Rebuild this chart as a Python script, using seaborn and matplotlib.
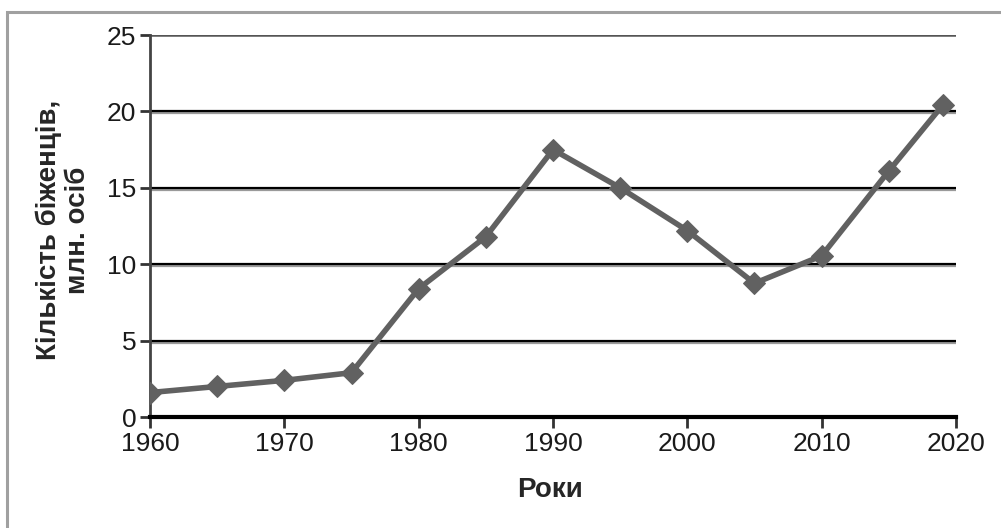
import matplotlib
matplotlib.use("Agg")
import matplotlib.pyplot as plt
import matplotlib.patheffects as pe
from matplotlib.patches import Rectangle
import seaborn as sns
import pandas as pd

years = [1960, 1965, 1970, 1975, 1980, 1985, 1990, 1995, 2000, 2005, 2010, 2015, 2019]
refugees = [1.6, 2.0, 2.4, 2.9, 8.4, 11.8, 17.5, 15.0, 12.2, 8.75, 10.55, 16.1, 20.4]
x_ticks = [1960, 1970, 1980, 1990, 2000, 2010, 2020]
y_ticks = [0, 5, 10, 15, 20, 25]
x_label = "Роки"
y_label = "Кількість біженців,\nмлн. осіб"

df = pd.DataFrame({"year": years, "value": refugees})

sns.set_theme(style="white")
plt.rcParams['font.family'] = ['Liberation Sans', 'DejaVu Sans']

fig = plt.figure(figsize=(10.01, 5.28), dpi=100)
ax = fig.add_axes([0.1499, 0.2102, 0.955 - 0.1499, 0.9337 - 0.2102])

# outer frame
fig.patches.append(Rectangle((7 / 1001, -0.05), 1.1, 1 - 12 / 528 + 0.05,
                             transform=fig.transFigure, fill=False,
                             edgecolor="#a0a0a0", linewidth=2.2, zorder=0))

# grid lines with light shadow
for yv in y_ticks[1:-1]:
    ax.axhline(yv, color="black", lw=1.6, zorder=1,
               path_effects=[pe.SimpleLineShadow(offset=(0, -1.5), shadow_color="#9a9a9a", alpha=1.0),
                             pe.Normal()])
ax.axhline(25, color="#555555", lw=1.8, zorder=1)

sns.lineplot(data=df, x="year", y="value", ax=ax, color="#616161",
             linewidth=4.0, marker="D", markersize=11,
             markeredgecolor="#616161", markerfacecolor="#616161", zorder=3)

ax.set_xlim(1960, 2020)
ax.set_ylim(0, 25)
ax.set_xticks(x_ticks)
ax.set_yticks(y_ticks)
ax.set_xticklabels([str(t) for t in x_ticks], fontsize=19, color="#1a1a1a")
ax.set_yticklabels([str(t) for t in y_ticks], fontsize=19, color="#1a1a1a")

for s in ["top", "right"]:
    ax.spines[s].set_visible(False)
ax.spines["left"].set_color("#444444")
ax.spines["left"].set_linewidth(2)
ax.spines["bottom"].set_color("black")
ax.spines["bottom"].set_linewidth(3)
ax.spines["bottom"].set_zorder(4)

ax.tick_params(axis="x", direction="out", length=8, width=2, color="#333333", pad=3, bottom=True)
ax.tick_params(axis="y", direction="out", length=7, width=2, color="#333333", pad=3, left=True)

ax.set_xlabel(x_label, fontsize=20, fontweight="bold", va="center")
ax.xaxis.set_label_coords(0.496, -0.191)
ax.set_ylabel(y_label, fontsize=20, fontweight="bold", linespacing=1.15, va="center")
ax.yaxis.set_label_coords(-0.108, 0.49)

fig.savefig("out.png", dpi=100)
